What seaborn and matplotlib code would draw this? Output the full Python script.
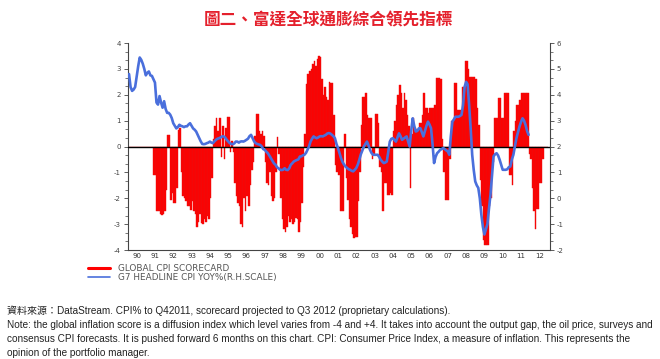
import numpy as np
import pandas as pd
import matplotlib
matplotlib.use("Agg")
import matplotlib.pyplot as plt
import seaborn as sns
from matplotlib import font_manager
from matplotlib.lines import Line2D
from matplotlib.ticker import AutoMinorLocator, FixedLocator

NAN = np.nan

# monthly, Jan 1990 .. Dec 2012
years = list(range(1990, 2013))

score = {
    1990: [NAN] * 12,
    1991: [NAN, NAN, NAN, NAN, NAN, -1.1, -1.1, -2.5, -2.5, -2.6, -2.65, -2.6],
    1992: [-2.5, -1.67, 0.45, 0.45, -2.07, -1.8, -2.2, -2.2, -1.6, 0.65, 0.7, -1.0],
    1993: [-1.9, -2.0, -2.1, -2.3, -2.3, -2.45, -2.1, -2.5, -2.6, -3.1, -2.9, -2.6],
    1994: [-2.95, -3.0, -2.8, -2.9, -2.7, -2.8, -2.0, -1.2, 0.3, 0.8, 1.1, 0.6],
    1995: [1.1, -0.4, 0.8, -0.5, 0.7, 1.15, 1.15, -0.2, 0.2, -0.2, -1.4, -1.9],
    1996: [-2.2, -2.3, -3.0, -3.1, -2.0, -2.5, -1.9, -2.3, -1.5, -0.9, -0.6, 0.4],
    1997: [1.25, 1.25, 0.6, 0.5, 0.6, 0.4, -0.6, -1.4, -1.5, -1.0, -1.9, -2.1],
    1998: [-2.0, -1.0, 0.35, -0.3, -2.0, -2.8, -3.2, -3.3, -3.1, -2.7, -2.9, -2.8],
    1999: [-3.0, -2.9, -2.75, -2.8, -3.3, -2.9, -2.2, -0.8, 0.5, 2.4, 2.8, 2.9],
    2000: [3.0, 3.2, 3.3, 3.1, 3.4, 3.5, 3.45, 2.6, 2.0, 2.3, 1.9, 1.8],
    2001: [2.5, 2.45, 2.45, 1.2, -0.7, -1.0, -1.1, -2.5, -2.5, -2.5, 0.47, -1.2],
    2002: [-2.06, -2.8, -3.1, -3.4, -3.55, -3.5, -3.5, -2.1, -1.0, 0.84, 1.9, 1.9],
    2003: [2.06, 1.2, 1.1, 1.1, -0.5, -0.3, 1.25, 1.25, 0.9, -0.8, -1.0, -2.5],
    2004: [-1.4, -1.4, -1.87, -1.87, -1.8, -1.87, 0.6, 1.0, 1.6, 2.0, 2.39, 2.06],
    2005: [1.5, 2.06, 1.8, 1.2, 0.8, -1.6, 0.5, 1.1, 0.7, 0.6, 0.6, 0.9],
    2006: [0.9, 1.2, 2.06, 1.5, 1.5, 1.3, 1.5, 1.5, 1.5, 1.6, 2.65, 2.65],
    2007: [2.65, 2.6, 0.3, -1.0, -2.06, -2.06, -2.06, -0.5, 1.0, 1.0, 2.45, 2.45],
    2008: [1.4, 1.4, 1.4, 2.3, 2.3, 3.3, 3.3, 3.0, 2.7, 2.7, 2.7, 2.7],
    2009: [2.6, 1.5, 0.84, -1.3, -2.3, -3.6, -3.8, -3.8, -3.8, -2.3, -2.0, -0.6],
    2010: [1.1, 1.1, 1.1, 1.87, 1.87, 1.1, 1.1, 2.06, 2.06, 2.06, -1.1, -1.1],
    2011: [-1.5, 0.6, 1.0, 1.6, 1.6, 1.8, 2.06, 2.06, 2.06, 2.06, 2.06, -0.3],
    2012: [-0.5, -1.6, -2.5, -3.2, -2.4, -2.4, -1.4, -1.4, -0.5, NAN, NAN, NAN],
}

cpi = {
    1990: [4.75, 4.8, 4.3, 4.15, 4.2, 4.3, 4.7, 5.1, 5.44, 5.35, 5.2, 5.0],
    1991: [4.75, 4.85, 4.9, 4.75, 4.73, 4.6, 4.47, 3.7, 3.62, 3.95, 3.7, 3.5],
    1992: [3.75, 3.45, 3.3, 3.3, 3.23, 3.1, 2.9, 2.8, 2.7, 2.75, 2.84, 2.8],
    1993: [2.78, 2.75, 2.78, 2.78, 2.85, 2.9, 2.8, 2.7, 2.65, 2.58, 2.45, 2.32],
    1994: [2.2, 2.1, 2.09, 2.1, 2.13, 2.15, 2.19, 2.15, 2.13, 2.2, 2.26, 2.3],
    1995: [2.32, 2.35, 2.39, 2.39, 2.35, 2.26, 2.2, 2.13, 2.1, 2.09, 2.12, 2.19],
    1996: [2.19, 2.15, 2.19, 2.2, 2.19, 2.22, 2.26, 2.3, 2.4, 2.45, 2.32, 2.2],
    1997: [2.13, 2.1, 2.08, 2.06, 2.0, 1.9, 1.87, 1.8, 1.74, 1.65, 1.55, 1.45],
    1998: [1.35, 1.3, 1.2, 1.16, 1.1, 1.09, 1.1, 1.16, 1.1, 1.09, 1.15, 1.29],
    1999: [1.35, 1.42, 1.45, 1.48, 1.5, 1.61, 1.62, 1.66, 1.68, 1.75, 1.87, 2.0],
    2000: [2.19, 2.3, 2.39, 2.35, 2.32, 2.35, 2.39, 2.4, 2.39, 2.42, 2.45, 2.5],
    2001: [2.52, 2.5, 2.45, 2.4, 2.32, 2.1, 1.94, 1.75, 1.55, 1.4, 1.3, 1.22],
    2002: [1.17, 1.12, 1.1, 1.06, 1.04, 1.1, 1.17, 1.3, 1.49, 1.7, 1.85, 2.0],
    2003: [2.1, 2.19, 2.05, 1.87, 1.75, 1.68, 1.68, 1.68, 1.68, 1.6, 1.49, 1.42],
    2004: [1.36, 1.38, 1.42, 1.8, 2.19, 2.3, 2.32, 2.25, 2.19, 2.35, 2.51, 2.4],
    2005: [2.26, 2.3, 2.35, 2.39, 2.2, 2.0, 2.6, 3.09, 2.8, 2.58, 2.6, 2.7],
    2006: [2.71, 2.55, 2.39, 2.6, 2.8, 2.96, 2.85, 2.71, 2.1, 1.36, 1.6, 1.74],
    2007: [1.8, 1.87, 1.9, 1.94, 1.9, 1.85, 1.81, 1.68, 2.4, 2.96, 3.05, 3.15],
    2008: [3.15, 3.15, 3.18, 3.22, 3.6, 4.3, 4.5, 4.4, 3.6, 2.7, 1.68, 1.1],
    2009: [0.65, 0.5, 0.4, 0.0, -0.63, -1.1, -1.4, -1.2, -1.0, -0.4, 0.14, 0.9],
    2010: [1.62, 1.7, 1.74, 1.65, 1.49, 1.3, 1.1, 1.1, 1.1, 1.12, 1.2, 1.23],
    2011: [1.5, 1.68, 2.0, 2.32, 2.55, 2.77, 2.95, 3.09, 3.0, 2.83, 2.6, 2.45],
    2012: [NAN] * 12,
}

title = "圖二、富達全球通膨綜合領先指標"
legend_labels = ["GLOBAL CPI SCORECARD", "G7 HEADLINE CPI YOY%(R.H.SCALE)"]
notes = [
    "資料來源：DataStream. CPI% to Q42011, scorecard projected to Q3 2012 (proprietary calculations).",
    "Note: the global inflation score is a diffusion index which level varies from -4 and +4. It takes into account the output gap, the oil price, surveys and",
    "consensus CPI forecasts. It is pushed forward 6 months on this chart. CPI: Consumer Price Index, a measure of inflation. This represents the",
    "opinion of the portfolio manager.",
]

rows = []
for y in years:
    for i in range(12):
        rows.append({"t": y + i / 12, "score": score[y][i], "cpi": cpi[y][i]})
df = pd.DataFrame(rows)

sns.set_style("white")


def has_font(name):
    try:
        font_manager.findfont(name, fallback_to_default=False)
        return True
    except Exception:
        return False


narrow = "Liberation Sans Narrow" if has_font("Liberation Sans Narrow") else "Liberation Sans"
note_size = 8.3 if narrow == "Liberation Sans Narrow" else 7.2
plt.rcParams["font.family"] = ["DejaVu Sans", "Noto Sans CJK TC"]
plt.rcParams["axes.unicode_minus"] = False

fig = plt.figure(figsize=(6.6, 3.59), dpi=100)
ax = fig.add_axes([0.1932, 0.3036, 0.640, 0.5766])

ax.bar(df["t"], df["score"].fillna(0), width=1 / 12, align="edge",
       color="#ff0000", edgecolor="#e81010", linewidth=0.3)
ax.axhline(0, color="black", lw=1.0, zorder=3)

ax2 = ax.twinx()
sns.lineplot(data=df.dropna(subset=["cpi"]), x="t", y="cpi", ax=ax2,
             color="#4a6fdc", linewidth=1.9)

for a in (ax, ax2):
    a.set_xlim(1990, 2013.08)
    a.set_xlabel("")
    a.set_ylabel("")
    a.spines["top"].set_visible(False)
    for s in ("left", "right", "bottom"):
        a.spines[s].set_color("#444444")
        a.spines[s].set_linewidth(0.8)
    a.yaxis.set_minor_locator(AutoMinorLocator(3))
    a.tick_params(axis="y", which="major", length=3, width=0.6, colors="#444444",
                  labelsize=5, pad=2)
    a.tick_params(axis="y", which="minor", length=2, width=0.5, colors="#444444")

ax.set_ylim(-4, 4)
ax.set_yticks(range(-4, 5))
ax2.set_ylim(-2, 6)
ax2.set_yticks(range(-2, 7))
ax.spines["right"].set_visible(False)
ax2.spines["left"].set_visible(False)
ax2.spines["bottom"].set_visible(False)
ax.yaxis.set_ticks_position("left")
ax2.yaxis.set_ticks_position("right")

ax.set_xticks(list(range(1990, 2014)))
ax.set_xticklabels([])
ax.xaxis.set_minor_locator(FixedLocator([y + 0.5 for y in years]))
ax.set_xticklabels([f"{y % 100:02d}" for y in years], minor=True)
ax.tick_params(axis="x", which="major", length=3, width=0.6, colors="#444444", direction="out")
ax.tick_params(axis="x", which="minor", length=0, labelsize=5, labelcolor="#333333", pad=2)

line = ax2.get_lines()[0]
red_h = Line2D([], [], color="#ff0000", lw=2.2)
blue_h = Line2D([], [], color=line.get_color(), lw=1.2)
fig.legend([red_h, blue_h], legend_labels, loc="upper left",
           bbox_to_anchor=(0.127, 0.278), frameon=False, fontsize=6.4,
           handlelength=2.5, labelspacing=0.0, handletextpad=0.8,
           borderpad=0, labelcolor="#555555")

fig.text(0.497, 0.944, title, ha="center", va="center", color="#e4202c",
         fontsize=12.0, fontweight="bold", family=["Noto Sans CJK TC", "DejaVu Sans"])

ys = [0.134, 0.095, 0.056, 0.017]
for txt, yy in zip(notes, ys):
    fig.text(0.011, yy, txt, ha="left", va="center", color="#222222",
             fontsize=note_size, family=[narrow, "Noto Sans CJK TC"])

fig.savefig("out.png", dpi=100)
